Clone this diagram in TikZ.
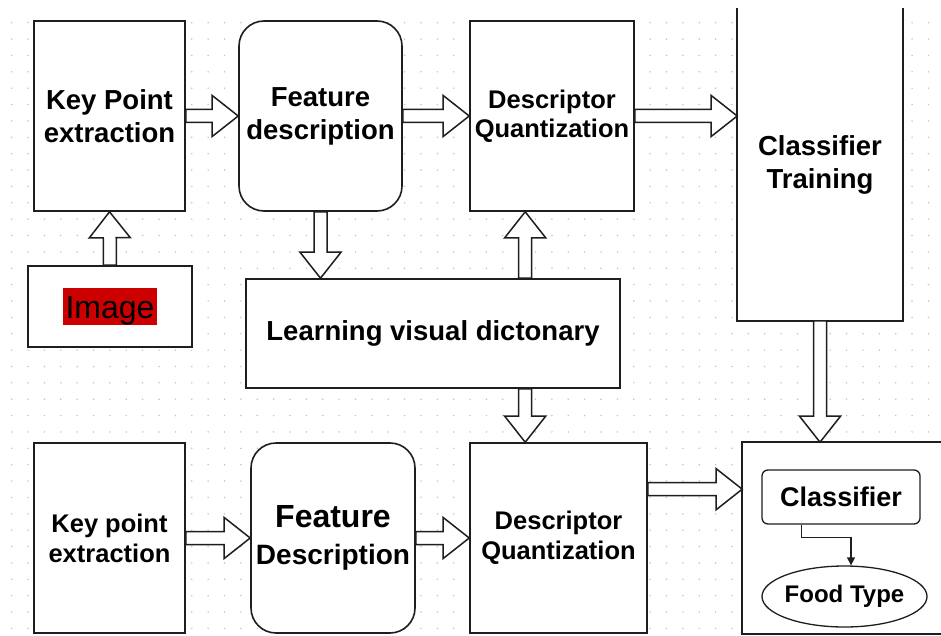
\documentclass[tikz,border=0pt]{standalone}
\usepackage{fontspec}
\setmainfont{Liberation Sans}
\usetikzlibrary{calc,arrows.meta,shapes.geometric}
\definecolor{imgred}{HTML}{CC0000}
\definecolor{dotc}{HTML}{C4C4C4}
\definecolor{edge}{HTML}{1E1E1E}
\newcommand\blockarr[2]{%
  \path let \p1=#1, \p2=#2 in \pgfextra{%
    \pgfmathsetmacro\tmpang{atan2(\y2-\y1,\x2-\x1)}%
    \pgfmathsetmacro\tmplen{veclen(\x2-\x1,\y2-\y1)}%
    \xdef\baang{\tmpang}\xdef\balen{\tmplen}};
  \pgfmathsetmacro\bab{\balen-26}%
  \begin{scope}[shift={#1}, rotate=\baang]
    \draw[blk] (0pt,6.5pt) -- (\bab pt,6.5pt) -- (\bab pt,20.5pt) -- (\balen pt,0pt)
      -- (\bab pt,-20.5pt) -- (\bab pt,-6.5pt) -- (0pt,-6.5pt) -- cycle;
  \end{scope}}
\begin{document}
\begin{tikzpicture}[x=1pt,y=-1pt,
  box/.style={draw=edge, line width=1.6pt, fill=white, inner sep=0pt, align=center},
  blk/.style={draw=edge, line width=1.5pt, fill=white, line join=miter},
  fbig/.style={font=\fontsize{27.5}{33}\selectfont\bfseries},
  fmid/.style={font=\fontsize{25.5}{30}\selectfont\bfseries}]
\useasboundingbox (0,0) rectangle (941,636);
\fill[white] (0,0) rectangle (941,636);
\clip (0,0) rectangle (941,636);
\foreach \i in {0,...,56}{\foreach \j in {0,...,37}{%
  \fill[dotc] ({11.7+\i*16.37},{22.7+\j*16.37}) circle (0.85pt);}}

% top row
\node[box, fbig, minimum width=151pt, minimum height=190pt] (kp1) at (109.5,116) {Key Point\\extraction};
\node[box, fbig, rounded corners=25pt, minimum width=163pt, minimum height=190pt] (fd1) at (320.5,116) {Feature\\description};
\node[box, font=\fontsize{25.5}{29}\selectfont\bfseries, minimum width=164pt, minimum height=190pt] (dq1) at (552,116) {Descriptor\\Quantization};
\node[box, fbig, draw=none, minimum width=164pt, minimum height=311pt] (ct) at (820,164.5) {Classifier\\Training};
\draw[edge, line width=1.6pt] (ct.north west) -- (ct.south west) -- (ct.south east) -- (ct.north east);

% middle
\node[box, minimum width=164pt, minimum height=81pt] (img) at (110,306.5) {};
\node[fill=imgred, inner xsep=2.5pt, inner ysep=0pt, text height=30pt, text depth=7pt,
      font=\fontsize{32}{36}\selectfont] (imglbl) at (img.center) {Image};
\node[box, fbig, minimum width=374pt, minimum height=109pt] (lvd) at (433,333.5) {Learning visual dictonary};

% bottom row
\node[box, fmid, minimum width=151pt, minimum height=190pt] (kp2) at (109.5,538) {Key point\\extraction};
\node[box, rounded corners=25pt, minimum width=164pt, minimum height=190pt, font=\fontsize{28}{37}\selectfont\bfseries] (fd2) at (333,538) {{\fontsize{32}{37}\selectfont Feature}\\Description};
\node[box, fmid, minimum width=177pt, minimum height=190pt] (dq2) at (558.5,538) {Descriptor\\Quantization};
\node[box, draw=none, minimum width=220pt, minimum height=190pt] (rb) at (853,538) {};
\draw[edge, line width=1.6pt] (rb.north east) -- (rb.north west) -- (rb.south west) -- (rb.south east);
\node[box, font=\fontsize{27}{32}\selectfont\bfseries, rounded corners=6pt, line width=1.3pt, minimum width=158pt, minimum height=54pt] (cls) at (841,497) {Classifier};
\node[box, ellipse, line width=1.3pt, inner xsep=-4pt, minimum width=165pt, minimum height=61pt,
      font=\fontsize{24}{28}\selectfont\bfseries] (food) at (844.5,596.5) {Food Type};
\coordinate (c1) at ($(cls.south west)+(40,0)$);
\draw[edge, line width=1.3pt, -{Triangle[length=8pt,width=8pt]}] (c1) -- ++(0,13) -| ($(food.north)+(6.5,0)$);

% block arrows
\blockarr{(kp1.east)}{(fd1.west)}
\blockarr{(fd1.east)}{(dq1.west)}
\blockarr{(dq1.east)}{(dq1.east -| ct.west)}
\blockarr{(img.north)}{(kp1.south)}
\blockarr{(fd1.south)}{(fd1.south |- lvd.north)}
\coordinate (p) at ($(dq1.south west)+(56,0)$);
\blockarr{(p |- lvd.north)}{(p)}
\blockarr{(p |- lvd.south)}{(p |- dq2.north)}
\blockarr{(ct.south)}{(ct.south |- rb.north)}
\blockarr{(kp2.east)}{(fd2.west)}
\blockarr{(fd2.east)}{(dq2.west)}
\coordinate (q) at ($(dq2.north east)+(0,47)$);
\blockarr{(q)}{(q -| rb.west)}
\end{tikzpicture}
\end{document}
